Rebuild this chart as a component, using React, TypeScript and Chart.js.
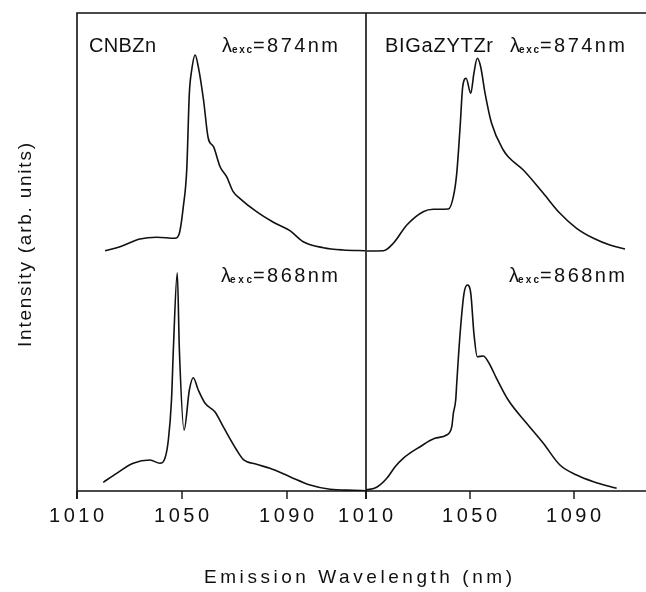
import React, { useEffect, useRef } from "react";
import { Chart, registerables } from "chart.js";

Chart.register(...registerables);

// ---- data (wavelength in nm, intensity in arbitrary units) ----
const X_TICKS = [1010, 1050, 1090];
const UPPER_OFFSET = 240; // vertical offset of the upper (λexc = 874 nm) spectra

const cnbzn874X = [1020.7, 1026.4, 1034, 1040.4, 1047.3, 1049, 1050.5, 1051.8, 1052.8, 1053.7, 1055, 1056.2, 1058.2, 1060, 1062, 1064.5, 1067, 1069.5, 1072, 1078.4, 1084.8, 1091.1, 1096.2, 1103.8, 1111.4, 1119.8];
const cnbzn874Y = [0.3, 4.3, 12, 13.7, 12.7, 17.7, 44.3, 81, 157.7, 181, 196, 184.3, 151, 112.7, 104.3, 84.3, 74.3, 59.3, 52.7, 39.3, 28.7, 20.3, 9.3, 3.3, 1, 0.3];

const bigaz874X = [1010.3, 1016.7, 1020.5, 1025.7, 1032, 1035.9, 1041.7, 1043.6, 1044.9, 1046.2, 1047.2, 1048.5, 1050.3, 1051.5, 1052.8, 1054.1, 1055.8, 1058.3, 1062.8, 1064.7, 1070.5, 1078.2, 1084.6, 1091, 1097.5, 1103.8, 1109.6];
const bigaz874Y = [0, 0.3, 7.7, 26, 39.3, 41.7, 42, 54.3, 77.7, 124.3, 164.3, 172.7, 157.7, 177.7, 192.7, 184.3, 157.7, 127.7, 101, 94.3, 81, 57.7, 37.7, 22.7, 12.7, 6, 2];

const cnbzn868X = [1020, 1025.1, 1031.4, 1037.8, 1041.6, 1043.5, 1044.8, 1046, 1046.7, 1048.2, 1049, 1050.8, 1052.8, 1054.3, 1056.2, 1058.8, 1062.6, 1065.7, 1070.8, 1073.3, 1078.4, 1083.5, 1091.1, 1098.8, 1106.4, 1115.2, 1119.8];
const cnbzn868Y = [8.7, 17.7, 27.7, 31, 27.7, 32.7, 51, 91, 141, 218.3, 141, 61, 101, 113.3, 101, 87.7, 79, 64.3, 41, 31.7, 26.7, 22.7, 14.3, 6, 1.7, 0.7, 0.3];

const bigaz868X = [1010, 1014.1, 1018, 1021.2, 1024.3, 1030.8, 1036.5, 1041, 1043, 1043.6, 1044.5, 1044.9, 1046.2, 1047.7, 1049, 1050.3, 1051.5, 1052.8, 1055.1, 1057, 1060.2, 1064.7, 1071.7, 1078.2, 1084.6, 1091, 1097.5, 1106.4];
const bigaz868Y = [1, 3.7, 12.7, 24.3, 32.7, 44.3, 52.7, 56, 64.3, 77.7, 91, 107.7, 157.7, 197.7, 206, 197.7, 157.7, 134.3, 135, 129.3, 112.7, 91, 68, 47.7, 26, 16, 9.3, 2.7];

const TEXT_FONT = "'Liberation Sans', Arial, sans-serif";

function pts(xs: number[], ys: number[], off = 0) {
  return xs.map((x, i) => ({ x, y: ys[i] + off }));
}

function fitText(ctx: CanvasRenderingContext2D, text: string, left: number, baseline: number, width: number, font: string) {
  ctx.save();
  ctx.font = font;
  (ctx as any).letterSpacing = "0px";
  const w = ctx.measureText(text).width;
  const n = text.length;
  const sp = n > 1 ? Math.max(0, (width - w) / (n - 1)) : 0;
  (ctx as any).letterSpacing = sp + "px";
  ctx.textAlign = "left";
  ctx.textBaseline = "alphabetic";
  ctx.fillText(text, left, baseline);
  ctx.restore();
}

function lambdaLabel(ctx: CanvasRenderingContext2D, lamX: number, subX: number, subEnd: number, restEnd: number, baseline: number, rest: string) {
  ctx.save();
  ctx.fillStyle = "#111";
  ctx.font = `20px ${TEXT_FONT}`;
  ctx.textBaseline = "alphabetic";
  ctx.fillText("λ", lamX, baseline);
  ctx.restore();
  fitText(ctx, "exc", subX, baseline + 1, subEnd - subX - 1, `bold 10px ${TEXT_FONT}`);
  fitText(ctx, rest, subEnd, baseline, restEnd - subEnd, `20px ${TEXT_FONT}`);
}

const framePlugin = {
  id: "framePlugin",
  afterDraw(chart: any) {
    const ctx: CanvasRenderingContext2D = chart.ctx;
    const area = chart.chartArea;
    const xL = chart.scales.xL;
    const xR = chart.scales.xR;
    const divider = xR.getPixelForValue(1010);
    ctx.save();
    ctx.strokeStyle = "#111";
    ctx.fillStyle = "#111";
    ctx.lineWidth = 1.6;
    // frame
    ctx.beginPath();
    ctx.moveTo(area.left, area.bottom + 8);
    ctx.lineTo(area.left, area.top);
    ctx.lineTo(area.right, area.top);
    ctx.moveTo(area.left, area.bottom);
    ctx.lineTo(area.right, area.bottom);
    ctx.moveTo(divider, area.top);
    ctx.lineTo(divider, area.bottom + 8);
    ctx.stroke();
    // ticks + labels
    ctx.lineWidth = 1.4;
    const tickFont = `20px ${TEXT_FONT}`;
    const drawTick = (px: number, v: number) => {
      ctx.beginPath();
      ctx.moveTo(px, area.bottom);
      ctx.lineTo(px, area.bottom + 8);
      ctx.stroke();
      fitText(ctx, String(v), px - 28, 522, 55, tickFont);
    };
    X_TICKS.forEach((v) => drawTick(xL.getPixelForValue(v), v));
    X_TICKS.forEach((v) => drawTick(xR.getPixelForValue(v), v));

    // axis titles
    fitText(ctx, "Emission Wavelength (nm)", 204, 583, 308, `19px ${TEXT_FONT}`);
    ctx.save();
    ctx.translate(31, 347);
    ctx.rotate(-Math.PI / 2);
    fitText(ctx, "Intensity (arb. units)", 0, 0, 204, `19px ${TEXT_FONT}`);
    ctx.restore();

    // annotations
    fitText(ctx, "CNBZn", 89, 52, 67, `20px ${TEXT_FONT}`);
    fitText(ctx, "BIGaZYTZr", 385, 52, 108, `20px ${TEXT_FONT}`);
    lambdaLabel(ctx, 222, 232, 253, 338, 52, "=874nm");
    lambdaLabel(ctx, 510, 519, 540, 625, 52, "=874nm");
    lambdaLabel(ctx, 221, 230, 253, 338, 282, "=868nm");
    lambdaLabel(ctx, 509, 518, 540, 625, 282, "=868nm");
    ctx.restore();
  },
};

export default function App() {
  const ref = useRef<HTMLCanvasElement | null>(null);
  useEffect(() => {
    if (!ref.current) return;
    const line = (data: any[], xAxisID: string) => ({
      data,
      xAxisID,
      yAxisID: "y",
      borderColor: "#111",
      borderWidth: 1.6,
      pointRadius: 0,
      fill: false,
      cubicInterpolationMode: "monotone" as const,
    });
    const chart = new Chart(ref.current, {
      type: "line",
      data: {
        datasets: [
          line(pts(cnbzn874X, cnbzn874Y, UPPER_OFFSET), "xL"),
          line(pts(bigaz874X, bigaz874Y, UPPER_OFFSET), "xR"),
          line(pts(cnbzn868X, cnbzn868Y), "xL"),
          line(pts(bigaz868X, bigaz868Y), "xR"),
        ],
      },
      options: {
        animation: false,
        responsive: false,
        devicePixelRatio: 1,
        layout: { padding: { left: 77, top: 13, right: 0, bottom: 101 } },
        plugins: { legend: { display: false }, tooltip: { enabled: false } },
        scales: {
          xL: { type: "linear", display: false, min: 1010, max: 1010 + 569 / 2.625 },
          xR: { type: "linear", display: false, min: 1010 - 289 / 2.6, max: 1010 + 280 / 2.6 },
          y: { type: "linear", display: false, min: 0, max: 478 },
        },
      },
      plugins: [framePlugin],
    });
    return () => chart.destroy();
  }, []);
  return (
    <div style={{ position: "fixed", left: 0, top: 0, background: "#fff" }}>
      <canvas ref={ref} width={646} height={592} style={{ display: "block" }} />
    </div>
  );
}
